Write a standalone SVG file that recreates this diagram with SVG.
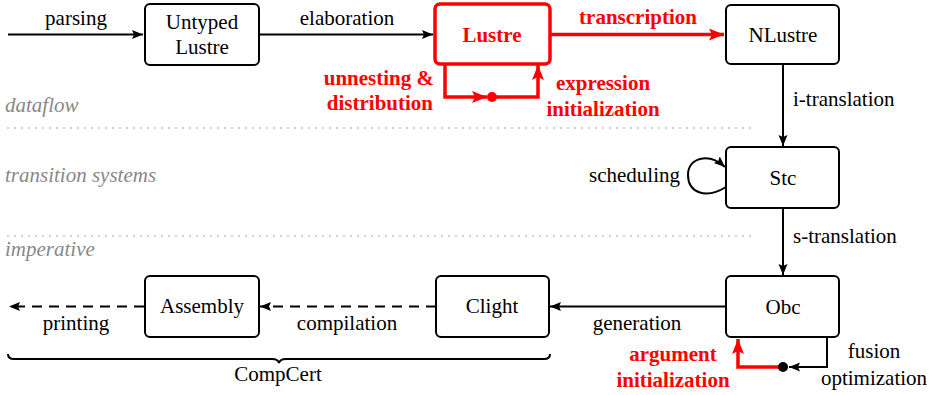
<svg xmlns="http://www.w3.org/2000/svg" width="935" height="395" viewBox="0 0 935 395">
<style>
text{font-size:21px;fill:#000}
.m{text-anchor:middle}
.e{text-anchor:end}
.r{fill:#f00;font-weight:bold}
.g{fill:#888;font-style:italic}
.box{fill:#fff;stroke:#000;stroke-width:2}
.rbox{fill:#fff;stroke:#f00;stroke-width:3.5}
.c{fill:none;stroke:#000;stroke-width:2}
.rc{fill:none;stroke:#f00;stroke-width:3.5}
.d{stroke-dasharray:10 7}
.dot{fill:none;stroke:#999;stroke-width:1.6;stroke-linecap:round;stroke-dasharray:0 7}
</style>
<defs>
<marker id="ab" markerUnits="userSpaceOnUse" markerWidth="12" markerHeight="10" refX="11" refY="4.5" orient="auto">
<path d="M0,0 L11,4.5 L0,9 L2,4.5 z" fill="#000"/>
</marker>
<marker id="ar" markerUnits="userSpaceOnUse" markerWidth="16" markerHeight="13" refX="15" refY="6" orient="auto">
<path d="M0,0 L15,6 L0,12 L3,6 z" fill="#f00"/>
</marker>
</defs>
<g id="layers">
<line class="dot" x1="8" y1="128" x2="753" y2="128"/>
<line class="dot" x1="8" y1="236" x2="753" y2="236"/>
<text font-family="Liberation Serif" class="g" x="5" y="112">dataflow</text>
<text font-family="Liberation Serif" class="g" x="5" y="182">transition systems</text>
<text font-family="Liberation Serif" class="g" x="5" y="256">imperative</text>
</g>
<g id="connectors">
<line class="c" x1="8" y1="34.5" x2="143" y2="34.5" marker-end="url(#ab)"/>
<text font-family="Liberation Serif" class="m" x="76" y="25">parsing</text>
<line class="c" x1="259" y1="34.5" x2="433" y2="34.5" marker-end="url(#ab)"/>
<text font-family="Liberation Serif" class="m" x="347" y="25">elaboration</text>
<line class="rc" x1="550" y1="34.5" x2="724" y2="34.5" marker-end="url(#ar)"/>
<text font-family="Liberation Serif" class="m r" x="638" y="24">transcription</text>
<path class="rc" d="M445,64 V97 H487" marker-end="url(#ar)"/>
<path class="rc" d="M492,97 H538 V65" marker-end="url(#ar)"/>
<circle cx="492" cy="97" r="5" fill="#f00"/>
<text font-family="Liberation Serif" class="e r" x="434" y="85">unnesting &amp;</text>
<text font-family="Liberation Serif" class="e r" x="433" y="110">distribution</text>
<text font-family="Liberation Serif" class="m r" x="603" y="90">expression</text>
<text font-family="Liberation Serif" class="m r" x="603" y="116">initialization</text>
<line class="c" x1="783" y1="64" x2="783" y2="146" marker-end="url(#ab)"/>
<text font-family="Liberation Serif" x="793" y="106">i-translation</text>
<path class="c" d="M726,187 C705,200 688,192 688,175 C688,158 708,152 725,167" marker-end="url(#ab)"/>
<text font-family="Liberation Serif" class="e" x="680" y="182">scheduling</text>
<line class="c" x1="783" y1="208" x2="783" y2="275" marker-end="url(#ab)"/>
<text font-family="Liberation Serif" x="793" y="243">s-translation</text>
<line class="c" x1="726" y1="306.5" x2="550" y2="306.5" marker-end="url(#ab)"/>
<text font-family="Liberation Serif" class="m" x="637" y="330">generation</text>
<line class="c d" x1="436" y1="306.5" x2="260" y2="306.5" marker-end="url(#ab)"/>
<text font-family="Liberation Serif" class="m" x="347" y="330">compilation</text>
<line class="c d" x1="144" y1="306.5" x2="9" y2="306.5" marker-end="url(#ab)"/>
<text font-family="Liberation Serif" class="m" x="76" y="330">printing</text>
<path class="c" d="M827,337 V367 H789" marker-end="url(#ab)"/>
<path class="rc" d="M783,367 H738 V339" marker-end="url(#ar)"/>
<circle cx="783" cy="367" r="5" fill="#000"/>
<text font-family="Liberation Serif" class="m" x="874" y="358">fusion</text>
<text font-family="Liberation Serif" class="m" x="874" y="385">optimization</text>
<text font-family="Liberation Serif" class="m r" x="673" y="361">argument</text>
<text font-family="Liberation Serif" class="m r" x="673" y="387">initialization</text>
</g>
<g id="compcert">
<path class="c" d="M8,354 Q8,359 14,359 H272 Q278,359 279,363 Q280,359 286,359 H544 Q550,359 550,354"/>
<text font-family="Liberation Serif" class="m" x="278" y="381">CompCert</text>
</g>
<g id="untyped"><rect class="box" x="145" y="4" width="114" height="61" rx="5"/><text font-family="Liberation Serif" class="m" x="202" y="29">Untyped</text><text font-family="Liberation Serif" class="m" x="202" y="54">Lustre</text></g>
<g id="lustre"><rect class="rbox" x="435" y="4" width="115" height="60" rx="5"/><text font-family="Liberation Serif" class="m r" x="492" y="42">Lustre</text></g>
<g id="nlustre"><rect class="box" x="726" y="5" width="113" height="59" rx="5"/><text font-family="Liberation Serif" class="m" x="783" y="42">NLustre</text></g>
<g id="stc"><rect class="box" x="726" y="147" width="113" height="61" rx="5"/><text font-family="Liberation Serif" class="m" x="783" y="185">Stc</text></g>
<g id="obc"><rect class="box" x="726" y="276" width="113" height="61" rx="5"/><text font-family="Liberation Serif" class="m" x="783" y="314">Obc</text></g>
<g id="clight"><rect class="box" x="436" y="276" width="113" height="61" rx="5"/><text font-family="Liberation Serif" class="m" x="492" y="313">Clight</text></g>
<g id="assembly"><rect class="box" x="145" y="276" width="114" height="61" rx="5"/><text font-family="Liberation Serif" class="m" x="202" y="313">Assembly</text></g>
</svg>
